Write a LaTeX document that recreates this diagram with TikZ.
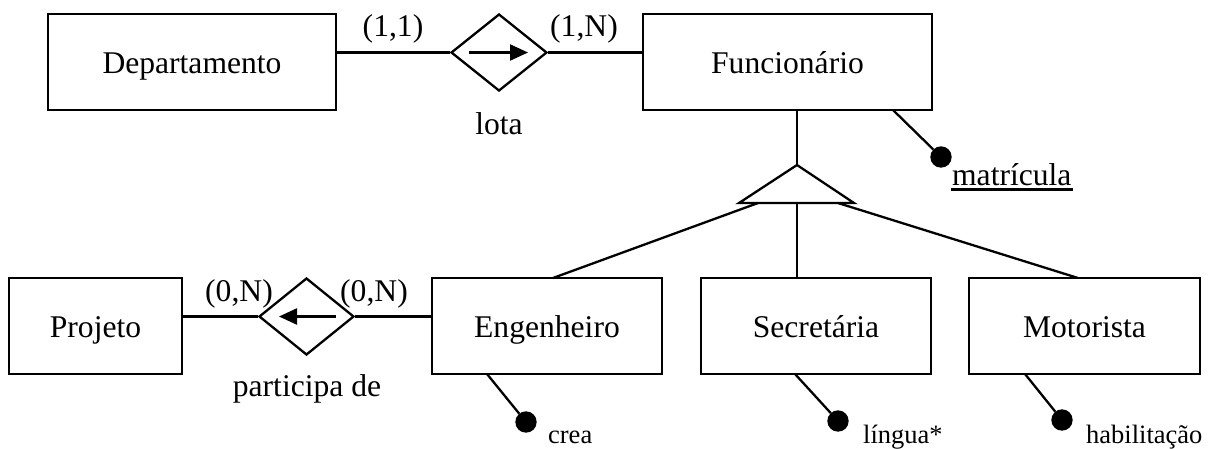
\documentclass[tikz,border=0pt]{standalone}
\usepackage{fontspec}
\setmainfont{Liberation Serif}
\usetikzlibrary{arrows.meta,shapes.geometric,calc}
\tikzset{
  entity/.style={draw, rectangle, minimum height=96pt, inner sep=0pt,
    text height=26pt, text depth=4pt, font=\fontsize{31.6pt}{36pt}\selectfont},
  relship/.style={draw, diamond, inner sep=0pt, minimum width=96pt, minimum height=77pt},
  lbl/.style={inner sep=0pt, font=\fontsize{31.6pt}{36pt}\selectfont},
  smalllbl/.style={inner sep=0pt, font=\fontsize{26.5pt}{30pt}\selectfont},
  attrdot/.style={circle, draw, fill, inner sep=0pt, minimum size=19pt},
  dirarrow/.style={-{Triangle[length=18pt,width=16pt]}},
}
\begin{document}
\begin{tikzpicture}[x=1pt, y=-1pt, line width=2.3pt]
\useasboundingbox (0,0) rectangle (1210,448);

% entities
\node[entity, minimum width=288pt] (dep)  at (192,62)    {Departamento};
\node[entity, minimum width=289pt] (func) at (787.5,62)  {Funcionário};
\node[entity, minimum width=173pt] (proj) at (95.5,326)  {Projeto};
\node[entity, minimum width=230pt] (eng)  at (547,326)   {Engenheiro};
\node[entity, minimum width=230pt] (sec)  at (816,326)   {Secretária};
\node[entity, minimum width=231pt] (mot)  at (1084.5,326) {Motorista};

% relationships
\node[relship] (lota) at (499,52.5) {};
\node[relship, minimum width=95pt] (part) at (306.5,316.5) {};

\draw (lota.west) -- (lota.west -| dep.east);
\draw (lota.east) -- (lota.east -| func.west);
\draw (part.west) -- (part.west -| proj.east);
\draw (part.east) -- (part.east -| eng.west);

\draw[dirarrow] ($(lota.center)+(-30,0)$) -- ($(lota.center)+(29,0)$);
\draw[dirarrow] ($(part.center)+(29.5,0)$) -- ($(part.center)+(-27.5,0)$);

% relationship labels and cardinalities
\node[lbl, anchor=base] (c11) at (393,36) {(1,1)};
\node[lbl, anchor=base] (c1n) at (584,36) {(1,N)};
\node[lbl, anchor=base] (c0nl) at (239,301) {(0,N)};
\node[lbl, anchor=base] (c0nr) at (374,301) {(0,N)};
\node[lbl, anchor=base] (lotalbl) at (499,134) {lota};
\node[lbl, anchor=base] (partlbl) at (307,396) {participa de};

% specialization
\coordinate (isaTop) at (797,165);
\coordinate (isaL) at (739,203);
\coordinate (isaR) at (854,203);
\coordinate (isaE) at (758,203);
\coordinate (isaS) at (797,203);
\coordinate (isaM) at (838,203);
\coordinate (engIn) at (553,278);
\coordinate (motIn) at (1078,278);
\draw (isaTop) -- (isaL) -- (isaR) -- cycle;
\draw (func.south -| isaTop) -- (isaTop);
\draw (isaE) -- (engIn);
\draw (isaS) -- (sec.north -| isaS);
\draw (isaM) -- (motIn);

% attributes
\coordinate (funcAttr) at (893,110);
\node[attrdot] (matrDot) at (941,157) {};
\draw (funcAttr) -- (matrDot);
\node[lbl, anchor=base west] (matr) at (951,185) {matrícula};
\draw[line width=2.6pt] ([yshift=-4.5pt]matr.base west) -- ([yshift=-4.5pt]matr.base east);

\coordinate (engAttr) at (487,374);
\node[attrdot] (creaDot) at (526,422) {};
\draw (engAttr) -- (creaDot);
\node[smalllbl, anchor=base west] (crea) at (547,443) {crea};

\coordinate (secAttr) at (795,374);
\node[attrdot] (linguaDot) at (838,421) {};
\draw (secAttr) -- (linguaDot);
\node[smalllbl, anchor=base west] (lingua) at (862,443) {língua*};

\coordinate (motAttr) at (1025,374);
\node[attrdot] (habDot) at (1062,420) {};
\draw (motAttr) -- (habDot);
\node[smalllbl, anchor=base west] (hab) at (1085,443) {habilitação};
\end{tikzpicture}
\end{document}
